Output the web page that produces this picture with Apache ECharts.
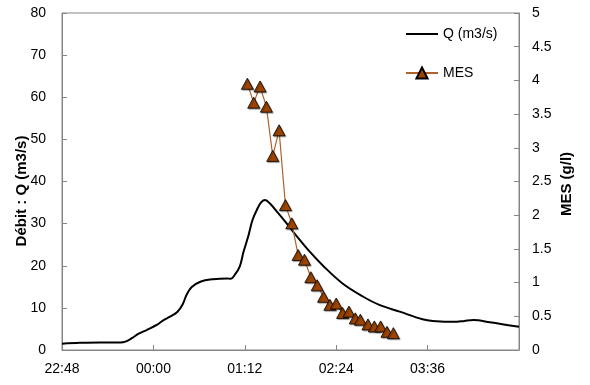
<!DOCTYPE html>
<html><head><meta charset="utf-8">
<script src="https://cdn.jsdelivr.net/npm/echarts@6/dist/echarts.min.js"></script>
<style>html,body{margin:0;padding:0;background:#fff}#c{width:590px;height:385px}</style>
</head><body><div id="c"></div>
<script>
// Débit Q (m3/s) — time (HH:MM), value
const qTimes = ['22:48','23:02','23:18','23:34','23:38','23:43','23:48','23:55','00:03','00:08','00:13','00:19','00:23','00:26','00:30','00:37','00:47','00:58','01:01','01:04','01:08','01:11','01:15','01:18','01:22','01:25','01:28','01:32','01:38','01:44','01:53','02:03','02:14','02:29','02:45','02:58','03:14','03:32','03:40','03:59','04:05','04:12','04:25','04:48'];
const qValues = [1.5,1.7,1.8,1.8,2.0,2.8,3.8,4.8,6.0,7.1,7.9,9.1,10.8,13.0,14.9,16.2,16.8,17.0,16.9,17.8,19.8,23.3,27.3,30.8,33.6,35.1,35.6,34.7,32.6,30.4,27.0,23.4,19.9,15.8,12.7,10.7,9.1,7.3,6.9,6.7,6.9,7.1,6.6,5.5];
// MES (g/l)
const mesTimes = ['01:14','01:19','01:24','01:29','01:34','01:39','01:44','01:49','01:54','01:59','02:04','02:09','02:14','02:19','02:24','02:29','02:34','02:39','02:43','02:49','02:54','02:59','03:04','03:09'];
const mesValues = [3.95,3.67,3.91,3.61,2.88,3.26,2.15,1.88,1.41,1.34,1.08,0.96,0.79,0.67,0.69,0.55,0.57,0.47,0.45,0.38,0.35,0.35,0.27,0.25];
const xTickLabels = ['22:48','00:00','01:12','02:24','03:36','04:48'];
const seriesNames = ['Q (m3/s)','MES'];
const leftTitle = 'Débit : Q (m3/s)';
const rightTitle = 'MES (g/l)';

function toMin(s){ const [h,m]=s.split(':').map(Number); let v=h*60+m; if(h<12) v+=1440; return v; }
function fmt(v){ const i=Math.round((v-1368)/72); return xTickLabels[i]!==undefined?xTickLabels[i]:''; }

const font = "'Liberation Sans',Arial,sans-serif";
const gray = '#868686';

const chart = echarts.init(document.getElementById('c'), null, {renderer:'canvas'});
chart.setOption({
  animation:false,
  backgroundColor:'#fff',
  grid:{left:62,right:71,top:13,bottom:35,show:true,borderColor:gray,borderWidth:1,containLabel:false},
  legend:{
    data:[
      {name:seriesNames[0],icon:'path://M0,0 L32,0 L32,2 L0,2 Z',itemStyle:{color:'#000'}},
      {name:seriesNames[1]}
    ],
    orient:'vertical', left:405, top:27, padding:0, itemWidth:32, itemHeight:14, itemGap:25,
    textStyle:{fontFamily:font,fontSize:14,color:'#000'}
  },
  xAxis:{
    type:'value', min:1368, max:1728, interval:72,
    axisLine:{show:true,lineStyle:{color:gray}},
    axisTick:{show:true,inside:true,length:5,lineStyle:{color:gray}},
    splitLine:{show:false},
    axisLabel:{formatter:fmt,showMaxLabel:false,margin:12,fontFamily:font,fontSize:14,color:'#000'}
  },
  yAxis:[{
    type:'value', min:0, max:80, interval:10, position:'left',
    axisLine:{show:true,lineStyle:{color:gray}},
    axisTick:{show:true,inside:true,length:5,lineStyle:{color:gray}},
    splitLine:{show:false},
    axisLabel:{margin:16,fontFamily:font,fontSize:14,color:'#000'}
  },{
    type:'value', min:0, max:5, interval:0.5, position:'right',
    axisLine:{show:true,lineStyle:{color:gray}},
    axisTick:{show:true,inside:true,length:5,lineStyle:{color:gray}},
    splitLine:{show:false},
    axisLabel:{margin:13,fontFamily:font,fontSize:14,color:'#000'}
  }],
  graphic:[
    {type:'text',x:22,y:191,rotation:Math.PI/2,style:{text:leftTitle,font:"bold 15px "+font,fill:'#000',textAlign:'center',textVerticalAlign:'middle'}},
    {type:'text',x:567,y:184,rotation:Math.PI/2,style:{text:rightTitle,font:"bold 15px "+font,fill:'#000',textAlign:'center',textVerticalAlign:'middle'}}
  ],
  series:[{
    name:seriesNames[0], type:'line', yAxisIndex:0, smooth:0.35,
    symbol:'none', showSymbol:false,
    lineStyle:{color:'#000',width:2},
    itemStyle:{color:'#000'},
    data:qTimes.map((t,i)=>[toMin(t),qValues[i]]),
    z:2
  },{
    name:seriesNames[1], type:'line', yAxisIndex:1,
    symbol:'triangle', symbolSize:[12,11], showSymbol:true,
    lineStyle:{color:'#B0622A',width:1.2},
    itemStyle:{color:'#9C4300',borderColor:'#000',borderWidth:0.8,shadowColor:'rgba(0,0,0,0.35)',shadowOffsetX:1,shadowOffsetY:1,shadowBlur:1},
    data:mesTimes.map((t,i)=>[toMin(t),mesValues[i]]),
    z:3
  }]
});
</script></body></html>
